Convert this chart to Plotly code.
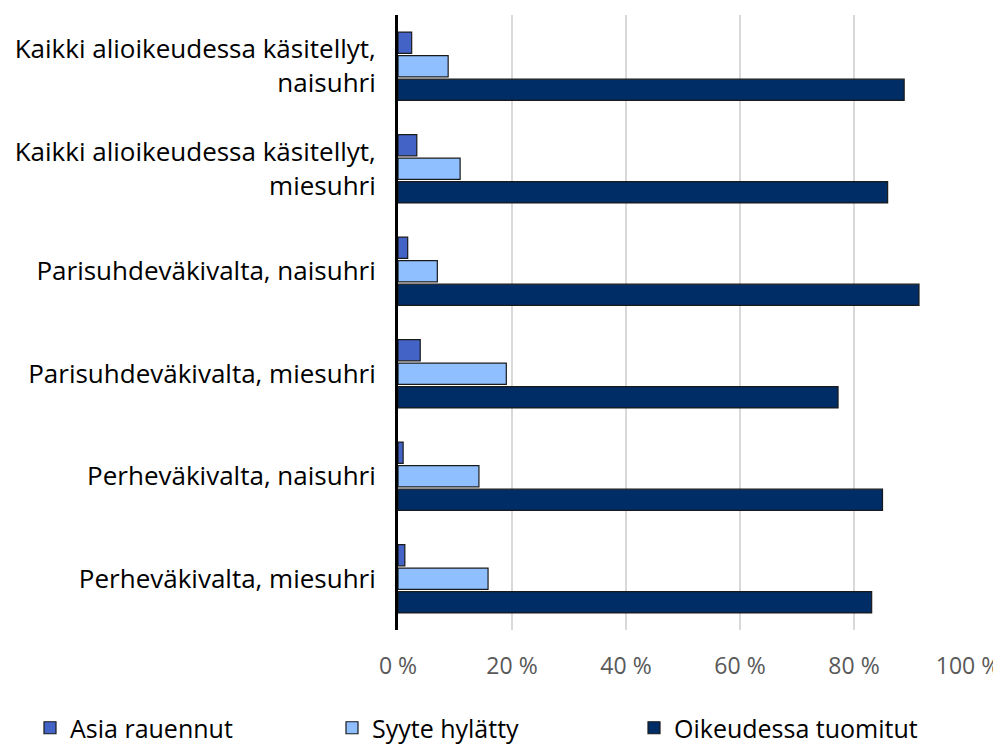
import plotly.graph_objects as go

categories = [
    "Kaikki alioikeudessa käsitellyt,<br>naisuhri",
    "Kaikki alioikeudessa käsitellyt,<br>miesuhri",
    "Parisuhdeväkivalta, naisuhri",
    "Parisuhdeväkivalta, miesuhri",
    "Perheväkivalta, naisuhri",
    "Perheväkivalta, miesuhri",
]
asia_rauennut = [2.4, 3.3, 1.7, 3.9, 0.9, 1.2]
syyte_hylatty = [8.8, 10.9, 6.9, 19.0, 14.2, 15.8]
oikeudessa_tuomitut = [88.8, 85.9, 91.4, 77.2, 85.0, 83.1]
tick_vals = [0, 20, 40, 60, 80, 100]
tick_text = ["0 %", "20 %", "40 %", "60 %", "80 %", "100 %"]

series = [
    ("Asia rauennut", asia_rauennut, "#4364C6"),
    ("Syyte hylätty", syyte_hylatty, "#8FBFFF"),
    ("Oikeudessa tuomitut", oikeudessa_tuomitut, "#002D66"),
]

fig = go.Figure()
for name, vals, color in series:
    fig.add_trace(go.Bar(
        y=categories, x=vals, name=name, orientation="h",
        marker=dict(color=color, line=dict(color="#1a1a1a", width=1.2)),
    ))

# page body has an 8px default margin, so the figure is sized 993x738
W, H = 993, 738
L, R, T, B = 390, 33, 7, 116
plot_w, plot_h = W - L - R, H - T - B

font = "Open Sans"
fig.update_layout(
    width=W, height=H,
    paper_bgcolor="white", plot_bgcolor="white",
    margin=dict(l=L, r=R, t=T, b=B, autoexpand=False),
    barmode="group", bargap=0.31, bargroupgap=0.1,
    font=dict(family=font, size=25, color="#000000"),
    showlegend=True,
    legend=dict(
        orientation="h", xref="paper", yref="paper",
        x=(22 - L) / plot_w, y=-(720 - (H - B)) / plot_h,
        xanchor="left", yanchor="middle",
        entrywidth=257, entrywidthmode="pixels",
        font=dict(family=font, size=25, color="#000000"),
        itemwidth=30, tracegroupgap=0,
    ),
    xaxis=dict(
        range=[0, 100], tickvals=tick_vals, ticktext=tick_text,
        showgrid=True, gridcolor="#d9d9d9", gridwidth=2,
        zeroline=False, showline=False,
        tickfont=dict(family=font, size=23, color="#595959"),
        ticklabelstandoff=20, ticklabeloverflow="allow",
    ),
    yaxis=dict(
        autorange="reversed", showline=True, linecolor="#000000", linewidth=3,
        showgrid=False, ticks="", ticklabelstandoff=14,
        tickfont=dict(family=font, size=26, color="#000000"),
    ),
)

fig.write_html("out.html")
